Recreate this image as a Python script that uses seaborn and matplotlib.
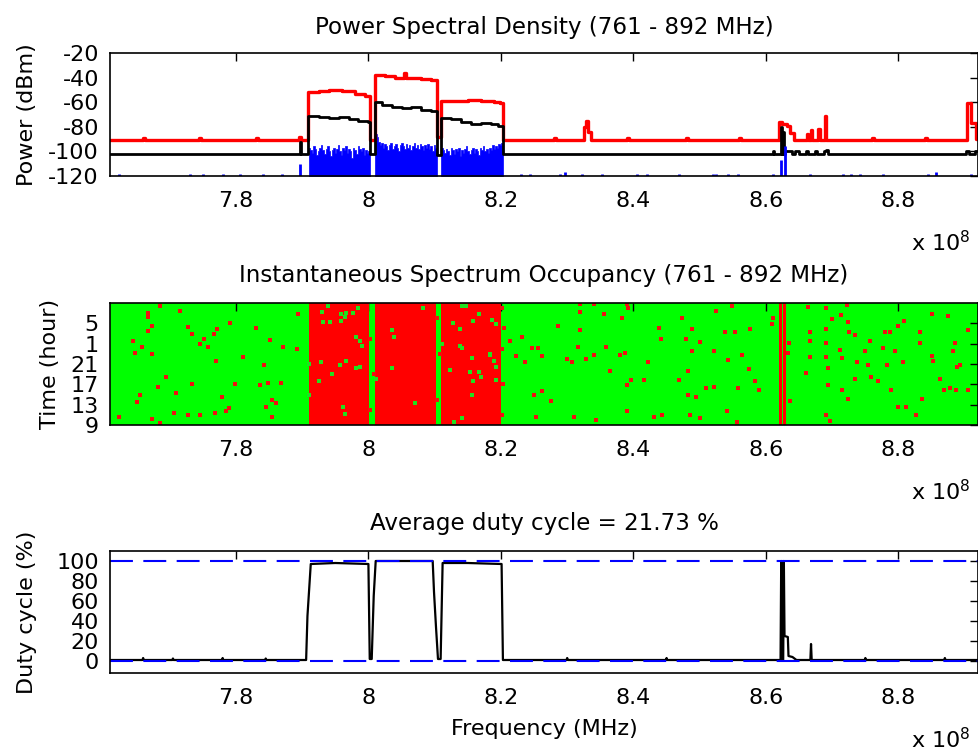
import numpy as np
import matplotlib
matplotlib.use("Agg")
import matplotlib.pyplot as plt
import seaborn as sns

# ---------------- data (frequencies in MHz) ----------------
freq_lim = [761, 892]
freq_ticks = [780, 800, 820, 840, 860, 880]
freq_tick_labels = ["7.8", "8", "8.2", "8.4", "8.6", "8.8"]

# PSD: maximum (red), step trace
psd_max_f = [761, 766.0, 766.3, 774.5, 774.8, 783.0, 783.3, 789.5, 789.8, 790.9,
             792.5, 794.0, 796.0, 798.0, 799.5, 800.2, 801.0, 802.5, 804.0, 805.4,
             805.7, 808.0, 809.5, 810.3, 811.0, 813.0, 815.0, 817.0, 819.0, 819.8,
             820.3, 828.0, 828.3, 832.6, 832.8, 833.1, 833.6, 839.0, 839.3, 848.0,
             848.3, 856.0, 856.3, 862.0, 862.4, 863.2, 863.6, 864.2, 866.2, 866.4,
             866.8, 867.0, 867.9, 868.1, 868.9, 869.1, 876.0, 876.3, 884.0, 884.3,
             890.3, 891.0, 891.7, 892.0]
psd_max_v = [-91, -89, -91, -89.5, -91, -89, -91, -88, -91, -52,
             -51, -50, -51, -53, -55, -91, -38, -39, -40, -36,
             -40, -41, -42, -88, -59, -59, -58, -59, -60, -61,
             -91, -89, -91, -80, -75, -84, -91, -89, -91, -89,
             -91, -89.5, -91, -76, -78, -79, -85, -91, -86, -91,
             -83, -91, -82, -91, -71, -91, -89.5, -91, -89, -91,
             -61, -77, -90, -90]

# PSD: mean (black), step trace
psd_mean_f = [761, 789.6, 789.9, 790.9, 792.5, 794.0, 795.5, 797.0, 798.5, 800.0,
              800.2, 801.0, 802.0, 803.5, 805.0, 806.5, 808.0, 809.5, 810.3, 811.0,
              812.5, 814.0, 815.5, 817.0, 818.5, 819.5, 820.3, 861.0, 861.2, 862.2,
              862.35, 862.6, 862.75, 862.9, 863.9, 864.4, 865.0, 866.1, 866.4, 867.4,
              867.7, 868.7, 869.0, 869.4, 890.2, 890.6, 891.5, 892.0]
psd_mean_v = [-102, -92, -102, -71, -72, -73, -72, -74, -75, -76,
              -102, -60, -62, -64, -65, -64, -66, -67, -103, -73,
              -74, -76, -78, -77, -78, -79, -102, -100, -102, -80,
              -102, -84, -102, -100, -102, -100, -102, -100, -102, -100,
              -102, -100, -99, -102, -100, -102, -100, -100]

# PSD: minimum (blue) - occupied bands (upper envelope) and isolated spikes
psd_min_band_lo = [791.0, 801.0, 811.0]
psd_min_band_hi = [800.2, 810.3, 820.3]
psd_min_band1 = [-97, -99, -101, -96, -98, -103, -100, -97, -95, -99,
                 -102, -98, -96, -100, -104, -99, -97, -101, -98, -95,
                 -100, -103, -97, -99, -96, -101, -98, -100, -105, -97,
                 -99, -102, -96, -98, -100, -97, -103, -99, -101, -100]
psd_min_band2 = [-86, -88, -92, -95, -93, -97, -94, -96, -99, -95,
                 -93, -98, -96, -94, -97, -100, -95, -93, -96, -98,
                 -94, -97, -95, -99, -96, -93, -97, -95, -98, -94,
                 -96, -99, -95, -97, -94, -98, -96, -100, -95, -97]
psd_min_band3 = [-97, -99, -101, -98, -100, -103, -97, -99, -102, -98,
                 -100, -97, -104, -99, -101, -98, -96, -100, -102, -99,
                 -97, -101, -98, -100, -103, -97, -99, -96, -100, -98,
                 -101, -97, -99, -95, -98, -96, -97, -94, -95, -93]
psd_min_spike_f = [762.3, 773.1, 775.1, 778.1, 780.6, 784.1, 786.9, 789.7, 823.1, 824.4,
                   828.9, 829.7, 832.2, 835.2, 840.5, 842.0, 846.8, 852.0, 852.5, 854.3,
                   855.8, 861.1, 862.2, 862.9, 866.6, 871.7, 872.9, 874.2, 877.7, 884.5,
                   885.7, 891.0]
psd_min_spike_v = [-118, -118, -118.5, -118, -118.5, -118, -118, -110, -118, -118.5,
                   -118, -116.5, -118, -118, -118, -118.5, -118, -118, -118, -118.5,
                   -118, -118, -107, -96, -118, -118, -118, -118, -118, -118,
                   -117, -118]

# Occupancy map
occ_hour_ticks = [0, 4, 8, 12, 16, 20]
occ_hour_labels = ["9", "13", "17", "21", "1", "5"]
occ_band_lo = [791.0, 801.0, 811.0, 862.0, 862.6]
occ_band_hi = [800.1, 810.2, 820.0, 862.35, 862.95]
occ_red_dots = [  # (MHz, hour) isolated occupied samples
    (768.5, 23.4), (766.7, 22.1), (771.6, 22.5), (766.8, 21.3), (764.4, 16.6), (765.9, 15.4),
    (766.7, 18.4), (767.4, 19.4), (772.8, 19.2), (773.4, 17.9), (775.2, 16.9), (774.6, 15.9),
    (775.8, 15.4), (776.7, 17.9), (777.1, 18.9), (779.1, 20.0), (783.1, 19.0), (785.1, 16.7),
    (787.1, 15.4), (789.2, 15.0), (789.4, 21.8), (764.7, 14.2), (767.3, 13.9), (777.0, 12.6),
    (781.0, 13.4), (784.3, 11.9), (769.4, 9.5), (773.4, 8.0), (768.3, 7.5), (779.8, 8.0),
    (783.6, 7.9), (784.8, 8.2), (786.8, 8.2), (765.5, 5.9), (765.1, 4.5), (770.9, 6.2),
    (777.9, 5.6), (785.5, 4.9), (786.0, 4.3), (778.9, 3.4), (784.5, 3.6), (767.3, 1.2),
    (768.5, 0.3), (770.6, 2.3), (772.8, 2.0), (774.6, 2.0), (776.8, 2.4), (778.5, 2.8),
    (785.5, 1.6), (762.4, 1.6),
    (800.3, 3.0), (800.8, 10.0), (800.2, 17.0), (810.4, 5.0), (810.8, 14.0), (810.3, 21.0),
    (820.2, 2.0), (820.3, 8.0), (820.1, 15.0), (820.4, 19.0), (820.2, 23.0),
    (831.9, 23.8), (834.1, 23.8), (839.0, 23.8), (839.2, 23.0), (831.9, 22.2), (835.6, 21.8),
    (838.3, 21.0), (828.6, 19.4), (831.9, 18.6), (823.2, 17.4), (821.4, 16.6), (824.7, 15.1),
    (825.6, 15.1), (822.3, 13.5), (826.2, 13.5), (823.7, 12.3), (829.9, 13.0), (830.7, 12.3),
    (831.7, 15.4), (832.8, 13.0), (834.1, 13.8), (835.8, 15.4), (836.5, 10.7), (837.9, 13.8),
    (838.8, 14.2), (825.0, 5.9), (826.2, 6.7), (827.6, 4.8), (831.1, 1.6), (834.4, 0.9),
    (825.3, 1.6), (839.0, 2.8), (839.6, 8.9), (839.0, 7.9), (841.6, 8.9), (842.2, 12.3),
    (843.1, 1.6), (844.3, 1.9), (843.8, 19.0), (844.1, 16.9), (846.9, 8.9), (847.4, 21.0),
    (848.0, 16.9), (848.9, 14.6), (848.9, 18.9), (848.3, 10.7), (848.3, 5.9), (849.5, 5.6),
    (850.0, 16.3), (851.0, 7.2), (852.2, 7.4), (852.2, 14.6), (852.5, 22.5), (853.8, 18.2),
    (854.9, 23.4), (855.3, 18.2), (854.3, 12.7), (856.4, 13.8), (855.8, 7.2), (857.6, 18.8),
    (857.4, 11.0), (858.3, 8.7), (858.9, 6.8), (854.1, 2.8), (855.6, 0.5), (850.0, 1.3),
    (848.6, 2.0), (861.1, 21.0), (860.9, 19.8), (863.5, 16.2), (863.4, 14.2), (863.7, 4.8),
    (866.4, 23.3), (866.7, 18.2), (866.7, 16.6), (866.6, 13.4), (866.1, 10.3), (869.1, 23.0),
    (870.0, 20.9), (869.1, 18.9), (869.1, 16.2), (869.1, 13.4), (869.4, 11.2), (869.4, 7.9),
    (869.1, 2.0), (869.6, 0.7), (871.3, 21.7), (872.4, 20.2), (871.2, 14.8), (871.5, 13.1),
    (871.4, 6.8), (872.4, 5.1), (873.5, 9.1), (873.7, 12.3), (872.2, 23.6), (872.5, 18.2),
    (873.4, 17.8), (874.9, 14.6), (875.4, 11.9), (875.7, 16.5), (875.8, 9.5), (876.9, 8.7),
    (877.7, 15.2), (877.9, 18.2), (878.2, 11.9), (878.7, 18.2), (878.8, 6.8), (879.9, 3.6),
    (881.2, 3.6), (879.9, 19.4), (880.9, 20.5), (882.7, 1.9), (883.5, 5.2), (883.3, 16.2),
    (883.3, 18.2), (880.7, 12.3), (879.5, 14.6), (885.0, 13.6), (885.2, 12.6), (885.1, 21.8),
    (886.3, 9.1), (886.9, 6.8), (887.5, 21.5), (887.8, 7.2), (888.3, 14.6), (888.5, 16.2),
    (888.7, 6.9), (888.8, 11.5), (889.3, 11.8), (890.5, 18.6), (890.5, 6.9),
]
occ_green_dots = [  # (MHz, hour) free samples inside occupied bands
    (793.9, 23.4), (793.0, 22.2), (795.9, 21.8), (796.6, 22.1), (797.6, 22.1), (798.5, 23.0),
    (793.1, 20.2), (794.2, 20.2), (795.8, 20.5), (796.4, 21.3), (798.2, 17.4), (798.7, 16.5),
    (799.1, 15.6), (792.9, 12.3), (795.7, 11.9), (796.6, 12.6), (798.2, 11.2), (798.7, 11.5),
    (792.5, 8.7), (794.5, 10.0), (796.1, 3.6), (796.4, 2.1), (803.6, 18.6), (803.9, 17.4),
    (803.6, 11.2), (807.1, 4.4), (808.3, 23.0), (814.1, 23.4), (814.8, 23.4), (812.7, 20.1),
    (813.8, 18.9), (815.8, 20.5), (816.7, 21.8), (818.6, 20.7), (813.8, 15.6), (814.1, 15.1),
    (815.7, 13.1), (816.7, 10.4), (812.3, 10.8), (815.3, 10.5), (815.8, 8.7), (815.7, 5.9),
    (818.3, 14.0), (814.1, 1.3), (812.9, 0.5), (818.7, 20.7), (819.3, 19.8), (818.3, 13.8),
    (819.0, 12.6), (819.3, 11.5), (817.0, 9.5), (819.3, 8.9), (791.1, 6.0), (791.1, 12.0),
    (801.1, 9.0), (811.1, 16.0),
]

# Duty cycle (%)
duty_f = [761, 765.9, 766.0, 766.1, 770.4, 770.5, 770.6, 777.9, 778.0, 778.1,
          784.4, 784.5, 784.6, 790.6, 790.8, 791.3, 795.0, 800.0, 800.2, 800.5,
          800.8, 801.1, 809.7, 809.9, 810.2, 810.5, 810.9, 811.2, 815.0, 820.1,
          820.3, 829.9, 830.0, 830.1, 844.9, 845.0, 845.1, 862.2, 862.3, 862.4,
          862.6, 862.7, 862.8, 863.3, 863.4, 864.0, 864.6, 866.7, 866.8, 866.9,
          874.9, 875.0, 875.1, 886.9, 887.0, 887.1, 892.0]
duty_v = [1, 1, 3, 1, 1, 2.5, 1, 1, 3, 1,
          1, 2.5, 1, 1, 45, 97, 98, 97, 2, 2,
          65, 100, 100, 69, 34, 2, 2, 98, 98, 97,
          1, 1, 3, 1, 1, 3, 1, 1, 100, 1,
          1, 100, 25, 24, 5, 4, 1, 1, 17, 1,
          1, 3, 1, 1, 3, 1, 1]
duty_ref_levels = [0, 100]

# ---------------- figure ----------------
sns.set_style("white")
plt.rcParams.update({
    "font.family": ["DejaVu Sans"],
    "font.size": 16,
    "axes.unicode_minus": False,
    "axes.edgecolor": "black",
    "axes.linewidth": 1.2,
    "xtick.color": "black",
    "ytick.color": "black",
    "text.color": "black",
    "axes.labelcolor": "black",
})

W, H = 979, 754
fig = plt.figure(figsize=(W / 100, H / 100), dpi=100)


def add_ax(top, bottom):
    return fig.add_axes([110 / W, 1 - bottom / H, 868 / W, (bottom - top) / H])


ax1 = add_ax(53, 176)
ax2 = add_ax(303, 425)
ax3 = add_ax(551, 673)

MHZ = 1e6
RED, BLUE, GREEN = "#ff0000", "#0000ff", "#00ff00"


def mhz(v):
    return np.asarray(v, dtype=float) * MHZ


def style(ax):
    ax.set_xlim(freq_lim[0] * MHZ, freq_lim[1] * MHZ)
    ax.set_xticks(mhz(freq_ticks))
    ax.set_xticklabels(freq_tick_labels)
    ax.tick_params(direction="in", top=True, right=True, length=6, width=1,
                   labelsize=16)
    ax.tick_params(axis="x", pad=11)
    ax.tick_params(axis="y", pad=8)
    for s in ax.spines.values():
        s.set_visible(True)
        s.set_color("black")
        s.set_linewidth(1.2)
    ax.annotate(r"x 10$^{8}$", xy=(0.923, 0), xycoords="axes fraction",
                xytext=(0, -75), textcoords="offset pixels", fontsize=16,
                ha="left", va="baseline", annotation_clip=False)


# --- top: PSD
sns.lineplot(x=mhz(psd_max_f), y=psd_max_v, ax=ax1, color=RED, lw=2.4,
             estimator=None, sort=False, drawstyle="steps-post")
sns.lineplot(x=mhz(psd_mean_f), y=psd_mean_v, ax=ax1, color="black", lw=2,
             estimator=None, sort=False, drawstyle="steps-post")
for lo, hi, env in zip(psd_min_band_lo, psd_min_band_hi,
                       [psd_min_band1, psd_min_band2, psd_min_band3]):
    edges = np.linspace(lo, hi, len(env) + 1)
    vals = list(env) + [env[-1]]
    ax1.fill_between(mhz(edges), vals, -120, step="post", color=BLUE, lw=0.5)
ax1.vlines(mhz(psd_min_spike_f), -120, psd_min_spike_v, color=BLUE, lw=2)
ax1.set_ylim(-120, -20)
ax1.set_yticks([-120, -100, -80, -60, -40, -20])
ax1.set_ylabel("Power (dBm)", labelpad=8)
ax1.set_title("Power Spectral Density (761 - 892 MHz)", fontsize=16.6, pad=14)
style(ax1)

# --- middle: occupancy
ax2.set_facecolor(GREEN)
for lo, hi in zip(occ_band_lo, occ_band_hi):
    ax2.axvspan(lo * MHZ, hi * MHZ, color=RED, lw=0)
rf = [p[0] * MHZ for p in occ_red_dots]
rh = [p[1] for p in occ_red_dots]
gf = [p[0] * MHZ for p in occ_green_dots]
gh = [p[1] for p in occ_green_dots]
sns.scatterplot(x=rf, y=rh, ax=ax2, color="#f01010", marker="s", s=5, linewidth=0)
sns.scatterplot(x=gf, y=gh, ax=ax2, color="#20e020", marker="s", s=5, linewidth=0)
ax2.set_ylim(0, 24)
ax2.set_yticks(occ_hour_ticks)
ax2.set_yticklabels(occ_hour_labels)
ax2.set_ylabel("Time (hour)", labelpad=8)
ax2.set_title("Instantaneous Spectrum Occupancy (761 - 892 MHz)", fontsize=16.6, pad=15)
style(ax2)

# --- bottom: duty cycle
sns.lineplot(x=mhz(duty_f), y=duty_v, ax=ax3, color="black", lw=1.6,
             estimator=None, sort=False)
for lvl in duty_ref_levels:
    ax3.axhline(lvl, color=BLUE, lw=1.5, dashes=(11, 5))
ax3.set_ylim(-12, 110)
ax3.set_yticks([0, 20, 40, 60, 80, 100])
ax3.set_ylabel("Duty cycle (%)", labelpad=14)
ax3.set_xlabel("Frequency (MHz)", labelpad=8)
ax3.set_title("Average duty cycle = 21.73 %", fontsize=16.6, pad=15)
style(ax3)

fig.savefig("out.png", dpi=100)
